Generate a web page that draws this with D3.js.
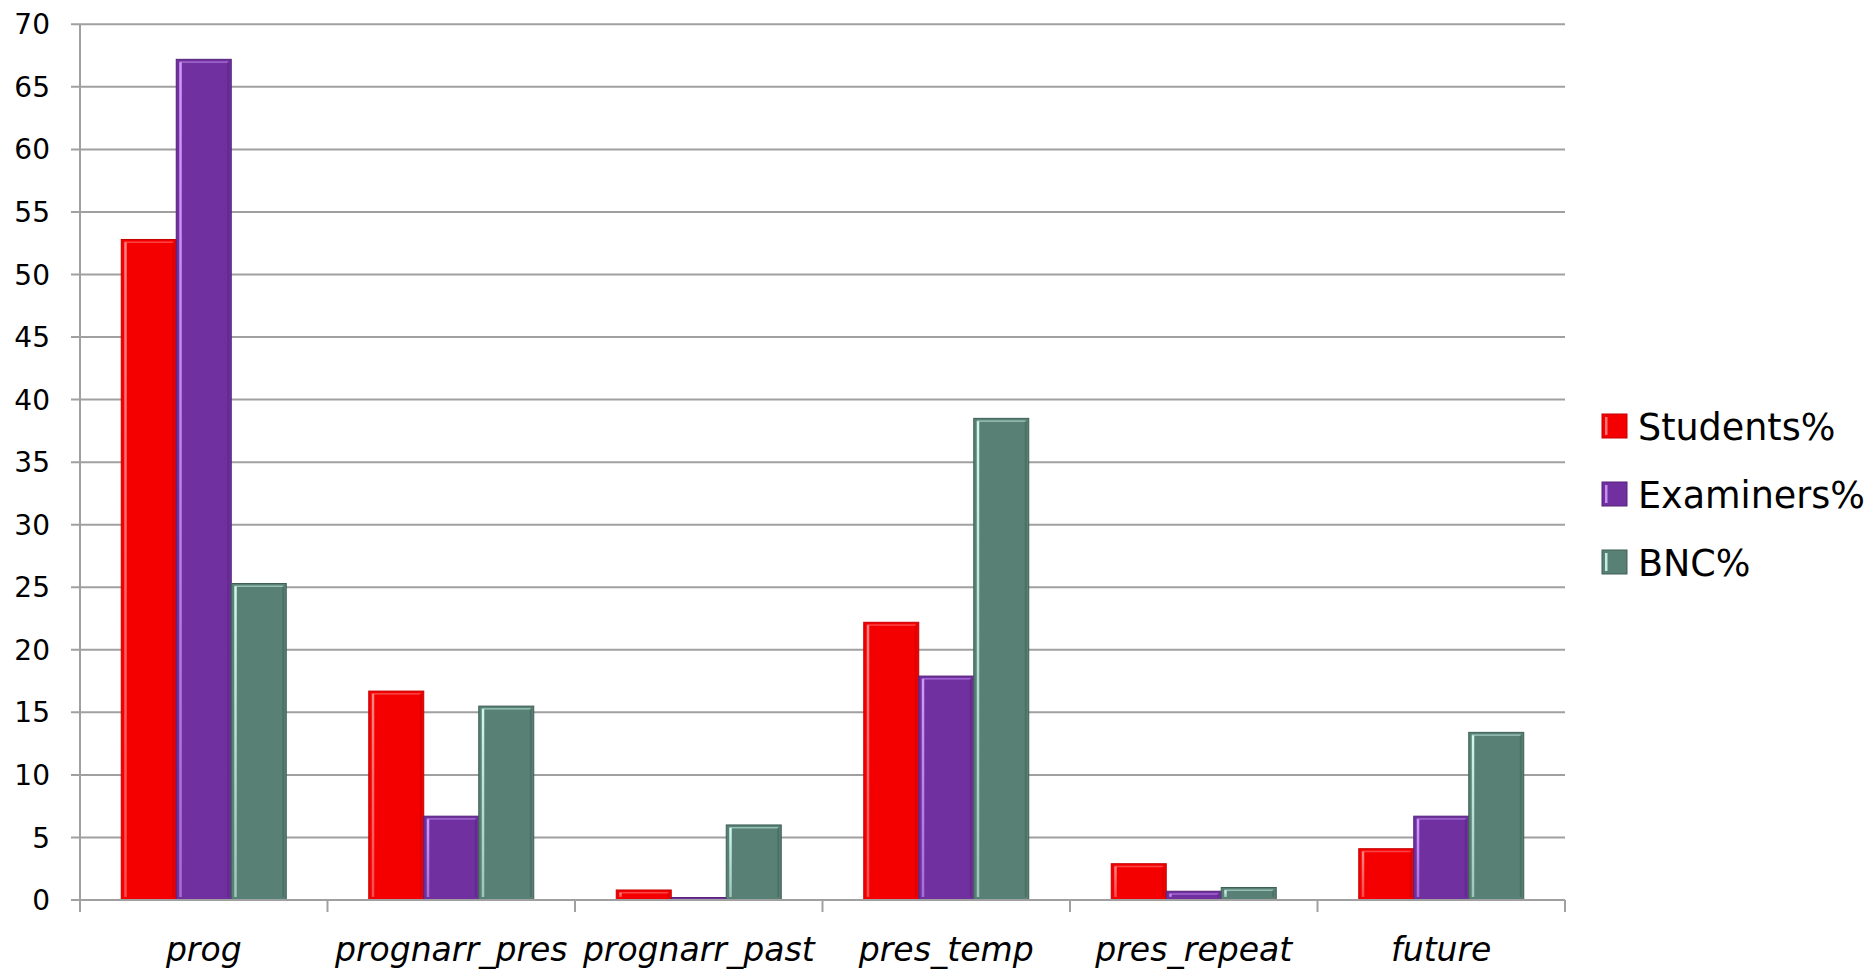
<!DOCTYPE html>
<html>
<head>
<meta charset="utf-8">
<script src="https://cdn.jsdelivr.net/npm/d3@7"></script>
<style>
  html, body { margin: 0; padding: 0; background: #ffffff; }
  svg { display: block; }
  text { font-family: "DejaVu Sans", sans-serif; fill: #000; }
</style>
</head>
<body>
<svg id="chart" width="1875" height="972"></svg>
<script>
// Categories and series
const categories = ["prog", "prognarr_pres", "prognarr_past", "pres_temp", "pres_repeat", "future"];
const seriesNames = ["Students%", "Examiners%", "BNC%"];
const students  = [52.8, 16.7, 0.8, 22.2, 2.9, 4.1];
const examiners = [67.2, 6.7, 0.2, 17.9, 0.7, 6.7];
const bnc       = [25.3, 15.5, 6.0, 38.5, 1.0, 13.4];
const yTicks = [0, 5, 10, 15, 20, 25, 30, 35, 40, 45, 50, 55, 60, 65, 70];

const seriesValues = [students, examiners, bnc];
const colors = {
  "Students%":  { base: "#f50000", dark: "#c40000", light: "#ff8a8a" },
  "Examiners%": { base: "#7030a0", dark: "#552278", light: "#d5a0ff" },
  "BNC%":       { base: "#588075", dark: "#3f5f56", light: "#d6fff4" }
};

const svg = d3.select("#chart");
const plotLeft = 80, plotRight = 1565, plotTop = 24.3, plotBottom = 900;

const x0 = d3.scaleBand().domain(categories).range([plotLeft, plotRight]).padding(0);
const x1 = d3.scaleBand().domain(seriesNames).range([0, x0.bandwidth()])
  .paddingInner(0).paddingOuter(0.75);
const y = d3.scaleLinear().domain([0, 70]).range([plotBottom, plotTop]);

// Gridlines with short ticks to the left of the axis
svg.append("g").selectAll("line").data(yTicks).join("line")
  .attr("x1", plotLeft - 9).attr("x2", plotRight)
  .attr("y1", d => y(d)).attr("y2", d => y(d))
  .attr("stroke", "#a0a0a0").attr("stroke-width", 2);

// Y axis line
svg.append("line")
  .attr("x1", plotLeft).attr("x2", plotLeft)
  .attr("y1", plotTop).attr("y2", plotBottom + 12)
  .attr("stroke", "#a0a0a0").attr("stroke-width", 2);

// Category separator ticks below the axis
const sepX = categories.map(c => x0(c)).concat([plotRight]);
svg.append("g").selectAll("line").data(sepX.slice(1)).join("line")
  .attr("x1", d => d).attr("x2", d => d)
  .attr("y1", plotBottom).attr("y2", plotBottom + 12)
  .attr("stroke", "#a0a0a0").attr("stroke-width", 2);

// Y tick labels
svg.append("g").selectAll("text").data(yTicks).join("text")
  .attr("x", 50).attr("y", d => y(d))
  .attr("dy", "0.36em")
  .attr("text-anchor", "end")
  .attr("font-size", 28)
  .text(d => d);

// Bars with a bevelled look
const defs = svg.append("defs");
seriesNames.forEach((s, i) => {
  const g = defs.append("linearGradient").attr("id", "hl" + i)
    .attr("x1", 0).attr("x2", 0).attr("y1", 0).attr("y2", 1);
  g.append("stop").attr("offset", "0%").attr("stop-color", colors[s].light).attr("stop-opacity", 0.95);
  g.append("stop").attr("offset", "100%").attr("stop-color", colors[s].light).attr("stop-opacity", 0.55);
});

const bars = [];
categories.forEach((c, ci) => {
  seriesNames.forEach((s, si) => {
    bars.push({ cat: c, series: s, si: si, value: seriesValues[si][ci] });
  });
});

const barG = svg.append("g").selectAll("g").data(bars).join("g")
  .attr("transform", d => `translate(${x0(d.cat) + x1(d.series)},0)`);

const bw = x1.bandwidth();
barG.append("rect")
  .attr("x", 0).attr("width", bw)
  .attr("y", d => y(d.value)).attr("height", d => plotBottom - y(d.value))
  .attr("fill", d => colors[d.series].base)
  .attr("stroke", d => colors[d.series].dark).attr("stroke-width", 1);

const tall = d => plotBottom - y(d.value) > 6;

// left highlight strip
barG.filter(tall).append("rect")
  .attr("x", 3).attr("width", 2.5)
  .attr("y", d => y(d.value) + 3).attr("height", d => Math.max(0, plotBottom - y(d.value) - 6))
  .attr("fill", d => `url(#hl${d.si})`);

// top highlight strip
barG.filter(tall).append("rect")
  .attr("x", 3).attr("width", bw - 6)
  .attr("y", d => y(d.value) + 2).attr("height", 1.5)
  .attr("fill", d => colors[d.series].light).attr("opacity", 0.5);

// right inner shade
barG.filter(tall).append("rect")
  .attr("x", bw - 4).attr("width", 2)
  .attr("y", d => y(d.value) + 3).attr("height", d => Math.max(0, plotBottom - y(d.value) - 6))
  .attr("fill", d => colors[d.series].dark).attr("opacity", 0.5);

// X axis baseline
svg.append("line")
  .attr("x1", plotLeft).attr("x2", plotRight)
  .attr("y1", plotBottom).attr("y2", plotBottom)
  .attr("stroke", "#a0a0a0").attr("stroke-width", 2);

// Category labels
svg.append("g").selectAll("text").data(categories).join("text")
  .attr("x", d => x0(d) + x0.bandwidth() / 2)
  .attr("y", 961)
  .attr("text-anchor", "middle")
  .attr("font-size", 33)
  .attr("font-style", "italic")
  .text(d => d);

// Legend
const legend = svg.append("g").selectAll("g").data(seriesNames).join("g")
  .attr("transform", (d, i) => `translate(1602, ${414 + i * 68})`);
legend.append("rect")
  .attr("width", 25).attr("height", 24)
  .attr("fill", d => colors[d].base)
  .attr("stroke", d => colors[d].dark).attr("stroke-width", 1);
legend.append("rect")
  .attr("x", 3).attr("y", 3).attr("width", 2.5).attr("height", 18)
  .attr("fill", d => colors[d].light).attr("opacity", 0.85);
legend.append("text")
  .attr("x", 36).attr("y", 26)
  .attr("font-size", 36.5)
  .text(d => d);
</script>
</body>
</html>
